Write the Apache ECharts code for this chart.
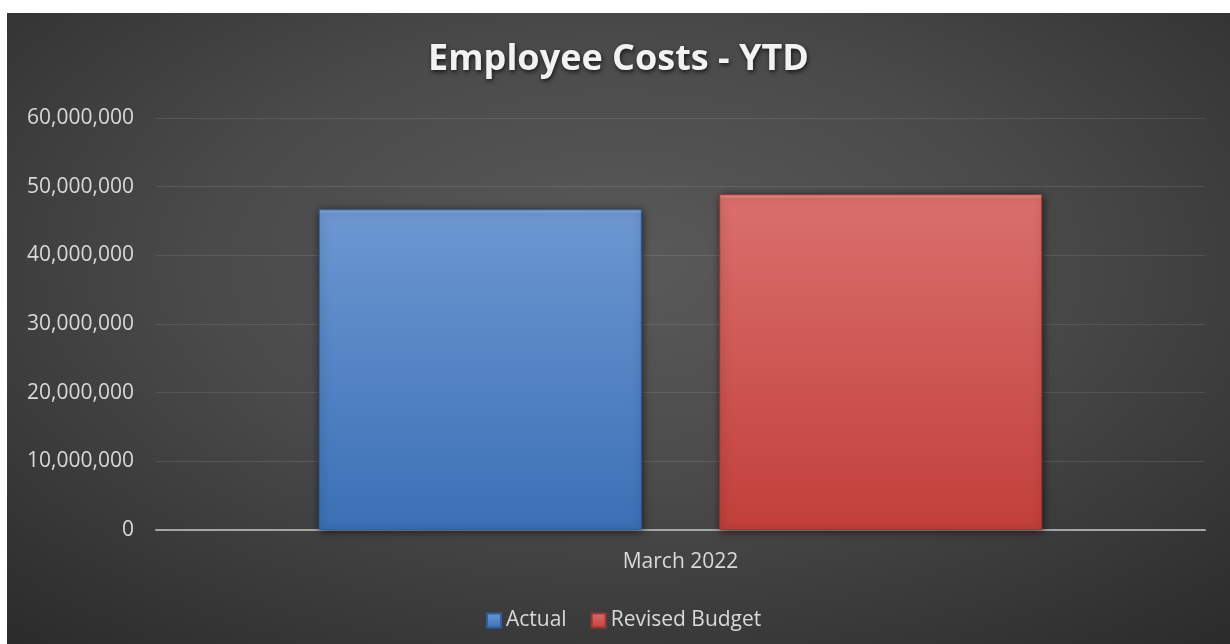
<!DOCTYPE html>
<html>
<head>
<meta charset="utf-8">
<script src="https://cdn.jsdelivr.net/npm/echarts@6/dist/echarts.min.js"></script>
<style>
  html, body { margin: 0; padding: 0; background: #ffffff; }
  #chart {
    position: absolute;
    left: 7px;
    top: 13px;
    width: 1223px;
    height: 631px;
    background: radial-gradient(ellipse 75% 80% at 50% 40%, #5a5a5a 0%, #4a4a4a 45%, #2b2b2b 100%);
  }
</style>
</head>
<body>
<div id="chart"></div>
<script>
// 数据
const categories = ['March 2022']
const actual = [46700000]
const revisedBudget = [48900000]
const seriesNames = ['Actual', 'Revised Budget']

const chart = echarts.init(document.getElementById('chart'))

// 渐变填充，模拟 Excel 的立体柱子
const blueFill = new echarts.graphic.LinearGradient(0, 0, 0, 1, [
  { offset: 0, color: '#8fb4e6' },
  { offset: 0.015, color: '#6c97d1' },
  { offset: 1, color: '#3b70b6' },
])
const redFill = new echarts.graphic.LinearGradient(0, 0, 0, 1, [
  { offset: 0, color: '#f09693' },
  { offset: 0.015, color: '#d96f6c' },
  { offset: 1, color: '#c23f3b' },
])

const option = {
  backgroundColor: 'transparent',
  animation: false,
  title: {
    text: 'Employee Costs - YTD',
    left: 'center',
    top: 24,
    textStyle: {
      color: '#f2f2f2',
      fontFamily: 'Open Sans',
      fontWeight: 'bold',
      fontSize: 36,
      textShadowColor: 'rgba(0,0,0,0.7)',
      textShadowBlur: 4,
      textShadowOffsetX: 1,
      textShadowOffsetY: 2,
    },
  },
  legend: {
    data: seriesNames,
    left: 474,
    top: 592,
    icon: 'rect',
    itemWidth: 14,
    itemHeight: 14,
    itemGap: 24,
    textStyle: {
      color: '#d9d9d9',
      fontFamily: 'Open Sans',
      fontSize: 21,
    },
  },
  grid: {
    left: 149,
    right: 25,
    top: 105,
    bottom: 114,
  },
  xAxis: {
    type: 'category',
    data: categories,
    axisTick: { show: false },
    axisLine: { lineStyle: { color: '#a6a6a6', width: 2 } },
    axisLabel: {
      color: '#d9d9d9',
      fontFamily: 'Open Sans',
      fontSize: 21,
      margin: 22,
    },
  },
  yAxis: {
    type: 'value',
    min: 0,
    max: 60000000,
    interval: 10000000,
    axisLine: { show: false },
    axisTick: { show: false },
    splitLine: { lineStyle: { color: 'rgba(255,255,255,0.1)', width: 1 } },
    axisLabel: {
      color: '#d9d9d9',
      fontFamily: 'Open Sans',
      fontSize: 21,
      margin: 22,
      formatter: v => v.toLocaleString('en-US'),
    },
  },
  series: [
    {
      name: seriesNames[0],
      type: 'bar',
      data: actual,
      barWidth: 323,
      barGap: '24%',
      itemStyle: {
        color: blueFill,
        borderColor: '#2f5f9e',
        borderWidth: 1,
        shadowColor: 'rgba(0,0,0,0.6)',
        shadowBlur: 8,
        shadowOffsetX: 1,
        shadowOffsetY: 1,
      },
    },
    {
      name: seriesNames[1],
      type: 'bar',
      data: revisedBudget,
      barWidth: 323,
      itemStyle: {
        color: redFill,
        borderColor: '#9e3431',
        borderWidth: 1,
        shadowColor: 'rgba(0,0,0,0.6)',
        shadowBlur: 8,
        shadowOffsetX: 1,
        shadowOffsetY: 1,
      },
    },
  ],
}

option && chart.setOption(option)
</script>
</body>
</html>
